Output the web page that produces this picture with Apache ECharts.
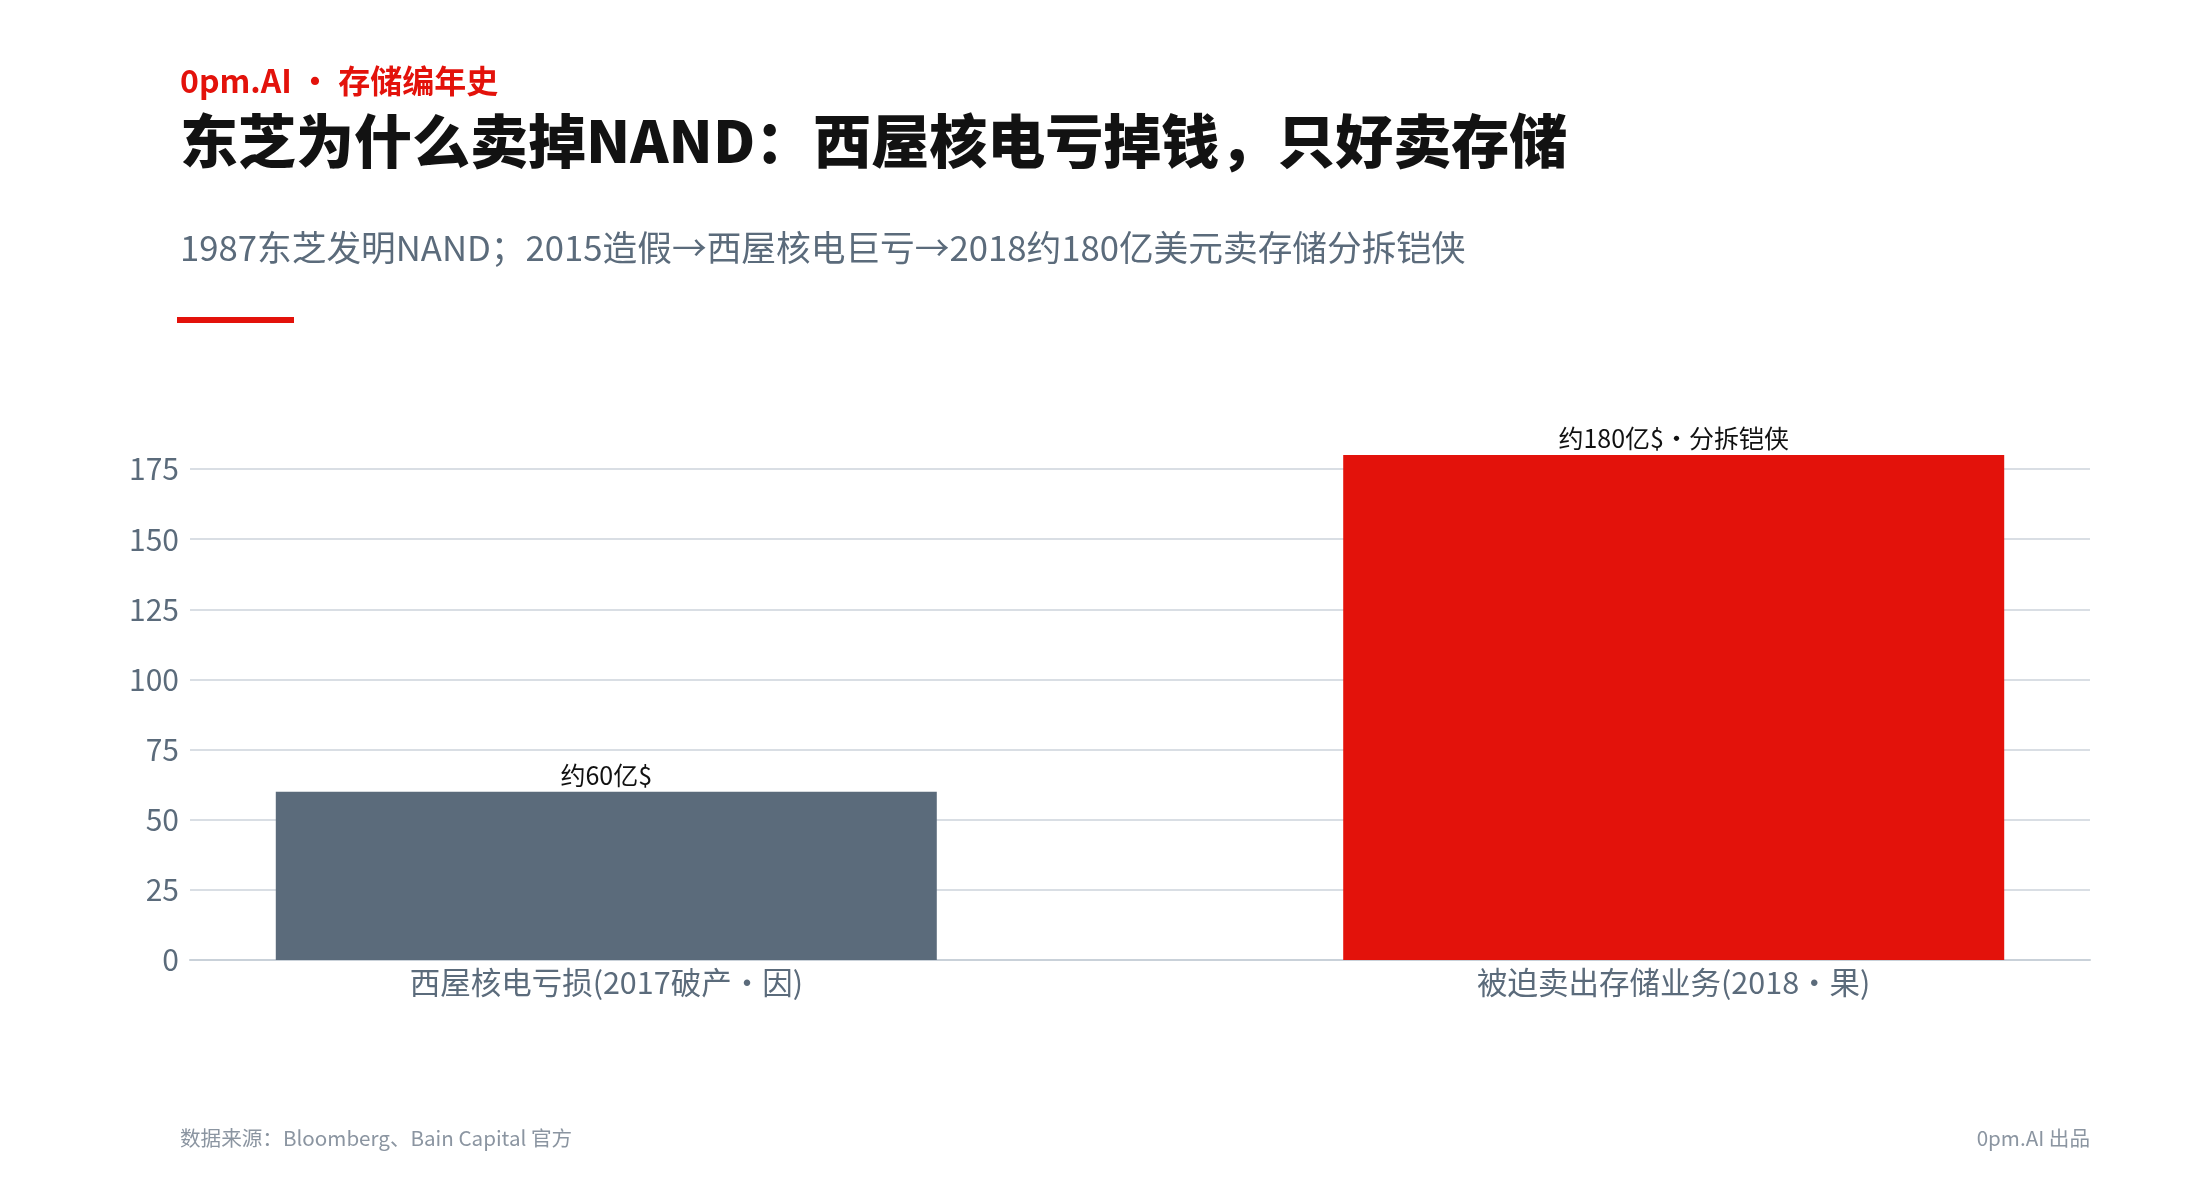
<!DOCTYPE html>
<html>
<head>
<meta charset="utf-8">
<script src="https://cdn.jsdelivr.net/npm/echarts@6/dist/echarts.min.js"></script>
<style>
html,body{margin:0;padding:0;background:#fff;}
#chart{width:2200px;height:1200px;}
</style>
</head>
<body>
<div id="chart"></div>
<script>
const categories = ['西屋核电亏损(2017破产・因)', '被迫卖出存储业务(2018・果)'];
const values = [60, 180];
const barLabels = ['约60亿$', '约180亿$・分拆铠侠'];
const barColors = ['#5B6B7B', '#E3120B'];
const yMin = 0, yMax = 175, yInterval = 25;

const brandText = '0pm.AI ・ 存储编年史';
const titleText = '东芝为什么卖掉NAND：西屋核电亏掉钱，只好卖存储';
const subtitleText = '1987东芝发明NAND；2015造假→西屋核电巨亏→2018约180亿美元卖存储分拆铠侠';
const sourceText = '数据来源：Bloomberg、Bain Capital 官方';
const creditText = '0pm.AI 出品';

const FONT = '"Noto Sans CJK SC", "Noto Sans", sans-serif';
const chart = echarts.init(document.getElementById('chart'), null, {renderer: 'canvas'});

const option = {
  backgroundColor: '#ffffff',
  animation: false,
  grid: {left: 190, right: 110, top: 469, bottom: 240, containLabel: false},
  xAxis: {
    type: 'value',
    min: -0.39, max: 1.39,
    splitLine: {show: false},
    axisTick: {show: false},
    axisLine: {show: true, onZero: false, lineStyle: {color: '#c9d1d9', width: 2}},
    axisLabel: {
      customValues: categories.map((c, i) => i),
      formatter: v => categories[Math.round(v)] || '',
      color: '#5B6B7B', fontSize: 30.5, fontFamily: FONT, margin: 7
    }
  },
  yAxis: {
    type: 'value',
    min: yMin, max: yMax, interval: yInterval,
    axisLine: {show: false},
    axisTick: {show: false},
    splitLine: {show: true, lineStyle: {color: '#d9dee4', width: 2}},
    axisLabel: {color: '#5B6B7B', fontSize: 30, fontFamily: FONT, margin: 11}
  },
  series: [{
    type: 'bar',
    clip: false,
    barWidth: 661,
    data: values.map((v, i) => ({
      value: [i, v],
      itemStyle: {color: barColors[i]},
      label: {formatter: barLabels[i]}
    })),
    label: {show: true, position: 'top', distance: 4, color: '#111111', fontSize: 25, fontFamily: FONT}
  }],
  graphic: [
    {type: 'text', x: 180, y: 81, style: {text: brandText, font: 'bold 32px ' + FONT, fill: '#E3120B', verticalAlign: 'middle', align: 'left'}},
    {type: 'text', x: 180, y: 141, style: {text: titleText, font: '900 58px ' + FONT, fill: '#121212', verticalAlign: 'middle', align: 'left'}},
    {type: 'text', x: 180, y: 248, style: {text: subtitleText, font: '34.7px ' + FONT, fill: '#5B6B7B', verticalAlign: 'middle', align: 'left'}},
    {type: 'rect', shape: {x: 177, y: 317, width: 117, height: 6}, style: {fill: '#E3120B'}},
    {type: 'text', x: 180, y: 1138, style: {text: sourceText, font: '20.6px ' + FONT, fill: '#8B95A1', verticalAlign: 'middle', align: 'left'}},
    {type: 'text', x: 2090, y: 1138, style: {text: creditText, font: '20.6px ' + FONT, fill: '#8B95A1', verticalAlign: 'middle', align: 'right'}}
  ]
};
chart.setOption(option);
</script>
</body>
</html>
